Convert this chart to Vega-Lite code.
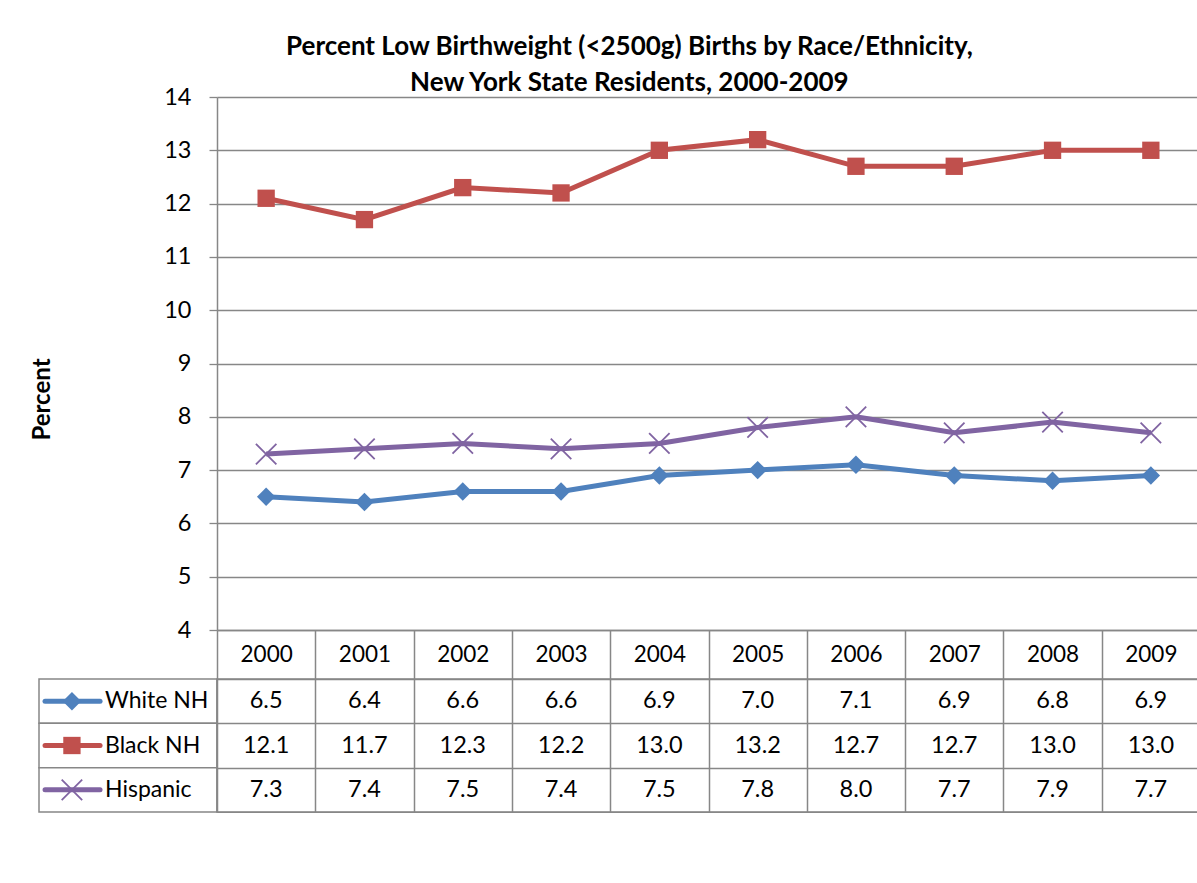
{
  "$schema": "https://vega.github.io/schema/vega-lite/v6.json",
  "padding": {"left": 30, "top": 34, "right": 0, "bottom": 0},
  "background": "white",
  "title": {
    "text": ["Percent Low Birthweight (<2500g) Births by Race/Ethnicity,", "New York State Residents, 2000-2009"],
    "fontSize": 26,
    "font": "Lato",
    "fontWeight": "bold",
    "anchor": "middle",
    "dx": 14,
    "lineHeight": 36,
    "offset": -11,
    "color": "black"
  },
  "datasets": {
    "values": [
      {"year": "2000", "group": "White NH", "value": 6.5},
      {"year": "2001", "group": "White NH", "value": 6.4},
      {"year": "2002", "group": "White NH", "value": 6.6},
      {"year": "2003", "group": "White NH", "value": 6.6},
      {"year": "2004", "group": "White NH", "value": 6.9},
      {"year": "2005", "group": "White NH", "value": 7.0},
      {"year": "2006", "group": "White NH", "value": 7.1},
      {"year": "2007", "group": "White NH", "value": 6.9},
      {"year": "2008", "group": "White NH", "value": 6.8},
      {"year": "2009", "group": "White NH", "value": 6.9},
      {"year": "2000", "group": "Black NH", "value": 12.1},
      {"year": "2001", "group": "Black NH", "value": 11.7},
      {"year": "2002", "group": "Black NH", "value": 12.3},
      {"year": "2003", "group": "Black NH", "value": 12.2},
      {"year": "2004", "group": "Black NH", "value": 13.0},
      {"year": "2005", "group": "Black NH", "value": 13.2},
      {"year": "2006", "group": "Black NH", "value": 12.7},
      {"year": "2007", "group": "Black NH", "value": 12.7},
      {"year": "2008", "group": "Black NH", "value": 13.0},
      {"year": "2009", "group": "Black NH", "value": 13.0},
      {"year": "2000", "group": "Hispanic", "value": 7.3},
      {"year": "2001", "group": "Hispanic", "value": 7.4},
      {"year": "2002", "group": "Hispanic", "value": 7.5},
      {"year": "2003", "group": "Hispanic", "value": 7.4},
      {"year": "2004", "group": "Hispanic", "value": 7.5},
      {"year": "2005", "group": "Hispanic", "value": 7.8},
      {"year": "2006", "group": "Hispanic", "value": 8.0},
      {"year": "2007", "group": "Hispanic", "value": 7.7},
      {"year": "2008", "group": "Hispanic", "value": 7.9},
      {"year": "2009", "group": "Hispanic", "value": 7.7}
    ],
    "groups": [
      {"group": "White NH"},
      {"group": "Black NH"},
      {"group": "Hispanic"}
    ]
  },
  "columns": 2,
  "spacing": {"row": 49, "column": 0},
  "align": "each",
  "bounds": "flush",
  "concat": [
    {
      "width": 178,
      "height": 533,
      "data": {"values": []},
      "mark": "text"
    },
    {
      "width": 983,
      "height": 533,
      "data": {"name": "values"},
      "encoding": {
        "x": {
          "field": "year", "type": "ordinal",
          "scale": {"paddingInner": 0, "paddingOuter": 0},
          "axis": {
            "title": null, "tickBand": "extent", "tickSize": 49, "labelPadding": -24.5,
            "labelBaseline": "middle", "labelAngle": 0, "labelFontSize": 22.5,
            "domainColor": "#878787", "domainWidth": 1.5, "tickColor": "#878787", "tickWidth": 1.5,
            "labelColor": "black", "grid": false
          }
        },
        "y": {
          "field": "value", "type": "quantitative",
          "scale": {"domain": [4, 14], "nice": false, "zero": false},
          "axis": {
            "values": [4, 5, 6, 7, 8, 9, 10, 11, 12, 13, 14],
            "title": "Percent", "titleFontSize": 24, "titleFontWeight": "bold", "titleColor": "black",
            "titleX": -175, "titleY": 302, "titleAngle": -90, "titleBaseline": "middle", "titleAlign": "center",
            "tickSize": 8, "labelPadding": 18, "labelFontSize": 23.5, "labelColor": "black",
            "grid": true, "gridColor": "#878787", "gridWidth": 1.3,
            "domainColor": "#878787", "domainWidth": 1.5, "tickColor": "#878787", "tickWidth": 1.3
          }
        },
        "color": {
          "field": "group", "type": "nominal",
          "scale": {"domain": ["White NH", "Black NH", "Hispanic"], "range": ["#4F81BD", "#C0504D", "#8064A2"]},
          "legend": null
        }
      },
      "layer": [
        {"mark": {"type": "line", "strokeWidth": 5}},
        {
          "transform": [{"filter": "datum.group === 'White NH'"}],
          "mark": {"type": "point", "shape": "diamond", "filled": true, "opacity": 1, "size": 340}
        },
        {
          "transform": [{"filter": "datum.group === 'Black NH'"}],
          "mark": {"type": "point", "shape": "square", "filled": true, "opacity": 1, "size": 300}
        },
        {
          "transform": [{"filter": "datum.group === 'Hispanic'"}],
          "mark": {"type": "point", "shape": "M-1,-1L1,1M-1,1L1,-1", "filled": false, "opacity": 1, "size": 420, "strokeWidth": 1.8}
        }
      ]
    },
    {
      "width": 178,
      "height": 133,
      "data": {"name": "groups"},
      "encoding": {
        "y": {
          "field": "group", "type": "nominal",
          "scale": {"domain": ["White NH", "Black NH", "Hispanic"], "paddingInner": 0, "paddingOuter": 0},
          "axis": null
        },
        "color": {
          "field": "group", "type": "nominal",
          "scale": {"domain": ["White NH", "Black NH", "Hispanic"], "range": ["#4F81BD", "#C0504D", "#8064A2"]},
          "legend": null
        }
      },
      "layer": [
        {
          "mark": {"type": "rect", "fill": "white", "stroke": "#878787", "strokeWidth": 1.5},
          "encoding": {
            "x": {"datum": 0, "type": "quantitative", "scale": {"domain": [0, 1], "nice": false, "zero": false}, "axis": null},
            "x2": {"datum": 1},
            "color": {"value": null}
          }
        },
        {
          "mark": {"type": "rule", "strokeWidth": 5, "strokeCap": "round"},
          "encoding": {
            "x": {"datum": 0.034, "type": "quantitative", "axis": null},
            "x2": {"datum": 0.343}
          }
        },
        {
          "transform": [{"filter": "datum.group === 'White NH'"}],
          "mark": {"type": "point", "shape": "diamond", "filled": true, "opacity": 1, "size": 340},
          "encoding": {"x": {"datum": 0.185, "type": "quantitative", "axis": null}}
        },
        {
          "transform": [{"filter": "datum.group === 'Black NH'"}],
          "mark": {"type": "point", "shape": "square", "filled": true, "opacity": 1, "size": 300},
          "encoding": {"x": {"datum": 0.185, "type": "quantitative", "axis": null}}
        },
        {
          "transform": [{"filter": "datum.group === 'Hispanic'"}],
          "mark": {"type": "point", "shape": "M-1,-1L1,1M-1,1L1,-1", "filled": false, "opacity": 1, "size": 420, "strokeWidth": 1.8},
          "encoding": {"x": {"datum": 0.185, "type": "quantitative", "axis": null}}
        },
        {
          "mark": {"type": "text", "align": "left", "baseline": "middle", "fontSize": 23, "color": "black"},
          "encoding": {
            "x": {"datum": 0.371, "type": "quantitative", "axis": null},
            "text": {"field": "group"},
            "color": {"value": "black"}
          }
        }
      ]
    },
    {
      "width": 983,
      "height": 133,
      "data": {"name": "values"},
      "view": {"stroke": "#878787", "strokeWidth": 1.5},
      "mark": {"type": "text", "fontSize": 23.5, "baseline": "middle", "color": "black"},
      "encoding": {
        "x": {
          "field": "year", "type": "ordinal",
          "scale": {"paddingInner": 0, "paddingOuter": 0},
          "axis": {"tickBand": "extent", "grid": true, "labels": false, "ticks": false, "domain": false, "title": null, "gridColor": "#878787", "gridWidth": 1.5}
        },
        "y": {
          "field": "group", "type": "nominal",
          "scale": {"domain": ["White NH", "Black NH", "Hispanic"], "paddingInner": 0, "paddingOuter": 0},
          "axis": {"tickBand": "extent", "grid": true, "labels": false, "ticks": false, "domain": false, "title": null, "gridColor": "#878787", "gridWidth": 1.5}
        },
        "text": {"field": "value", "type": "quantitative", "format": ".1f"}
      }
    }
  ],
  "config": {
    "view": {"stroke": null},
    "font": "Lato",
    "axis": {"labelFont": "Lato", "titleFont": "Lato"}
  }
}
